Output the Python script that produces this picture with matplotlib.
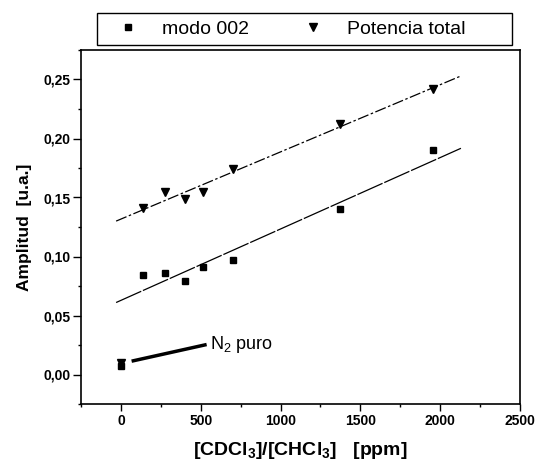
import numpy as np
import matplotlib
matplotlib.use('Agg')
from matplotlib import pyplot as plt
from matplotlib.patches import Rectangle
from matplotlib.ticker import MultipleLocator, FuncFormatter

plt.rcParams['font.family'] = ['Liberation Sans', 'DejaVu Sans']
plt.rcParams['mathtext.fontset'] = 'custom'
plt.rcParams['mathtext.rm'] = 'Liberation Sans'
plt.rcParams['mathtext.bf'] = 'Liberation Sans:bold'
plt.rcParams['mathtext.default'] = 'regular'

# concentration ratio [ppm]
conc = [0, 140, 275, 400, 515, 700, 1375, 1955]
# amplitudes [u.a.]
amp_modo002 = [0.007, 0.084, 0.086, 0.079, 0.091, 0.097, 0.140, 0.190]
amp_total = [0.010, 0.141, 0.155, 0.149, 0.155, 0.174, 0.212, 0.242]

# linear fits as drawn (end points)
fit_x = [-30, 2130]
fit_modo002 = [0.061, 0.1917]
fit_total = [0.130, 0.2530]

fig = plt.figure(figsize=(5.41, 4.67), dpi=100)
ax = fig.add_axes([81/541, 1 - 404/467, 439/541, 354/467])

ax.plot(fit_x, fit_total, color='k', lw=0.9, ls=(0, (9, 2, 2, 2)))
ax.plot(fit_x, fit_modo002, color='k', lw=0.9, ls=(0, (22, 1.5)))

ax.plot(conc, amp_modo002, 's', color='k', ms=5, label='modo 002')
ax.plot(conc, amp_total, 'v', color='k', ms=6, label='Potencia total')

# N2 puro annotation
ax.plot([67, 537], [0.0113, 0.0254], color='k', lw=2.5, solid_capstyle='butt')
ax.text(560, 0.0252, 'N$_2$ puro', fontsize=13, va='center', ha='left')

ax.set_xlim(-250, 2500)
ax.set_ylim(-0.025, 0.275)
ax.xaxis.set_major_locator(MultipleLocator(500))
ax.xaxis.set_minor_locator(MultipleLocator(250))
ax.yaxis.set_major_locator(MultipleLocator(0.05))
ax.yaxis.set_minor_locator(MultipleLocator(0.025))
ax.yaxis.set_major_formatter(FuncFormatter(lambda v, p: f'{v:.2f}'.replace('.', ',').replace('-0,00', '0,00')))

ax.tick_params(which='major', direction='out', length=5, width=1, labelsize=10)
ax.tick_params(which='minor', direction='out', length=2.5, width=1)
ax.tick_params(axis='y', which='major', length=6, pad=1.5)
ax.tick_params(axis='x', pad=2)
for lab in ax.get_xticklabels() + ax.get_yticklabels():
    lab.set_fontweight('bold')
for sp in ax.spines.values():
    sp.set_linewidth(1.2)

ax.set_xlabel('[CDCl$_\\mathbf{3}$]/[CHCl$_\\mathbf{3}$]   [ppm]', fontsize=14, fontweight='bold', va='top')
ax.xaxis.set_label_coords(0.5, -0.102)
ax.set_ylabel('Amplitud  [u.a.]', fontsize=12.5, fontweight='bold')
ax.yaxis.set_label_coords(-0.112, 0.5)

# legend above the axes, with its own frame
leg = ax.legend(loc='center left', bbox_to_anchor=(0.0804, 1.0593), ncol=2,
                borderaxespad=0, borderpad=0, frameon=False, fontsize=14,
                handlelength=1.2, handletextpad=1.15, columnspacing=2.7)
ax.add_patch(Rectangle((0.0364, 1.0141), 0.9454, 0.0904, transform=ax.transAxes,
                       fill=False, edgecolor='k', lw=1.0, clip_on=False))

fig.savefig('out.png', dpi=100)
